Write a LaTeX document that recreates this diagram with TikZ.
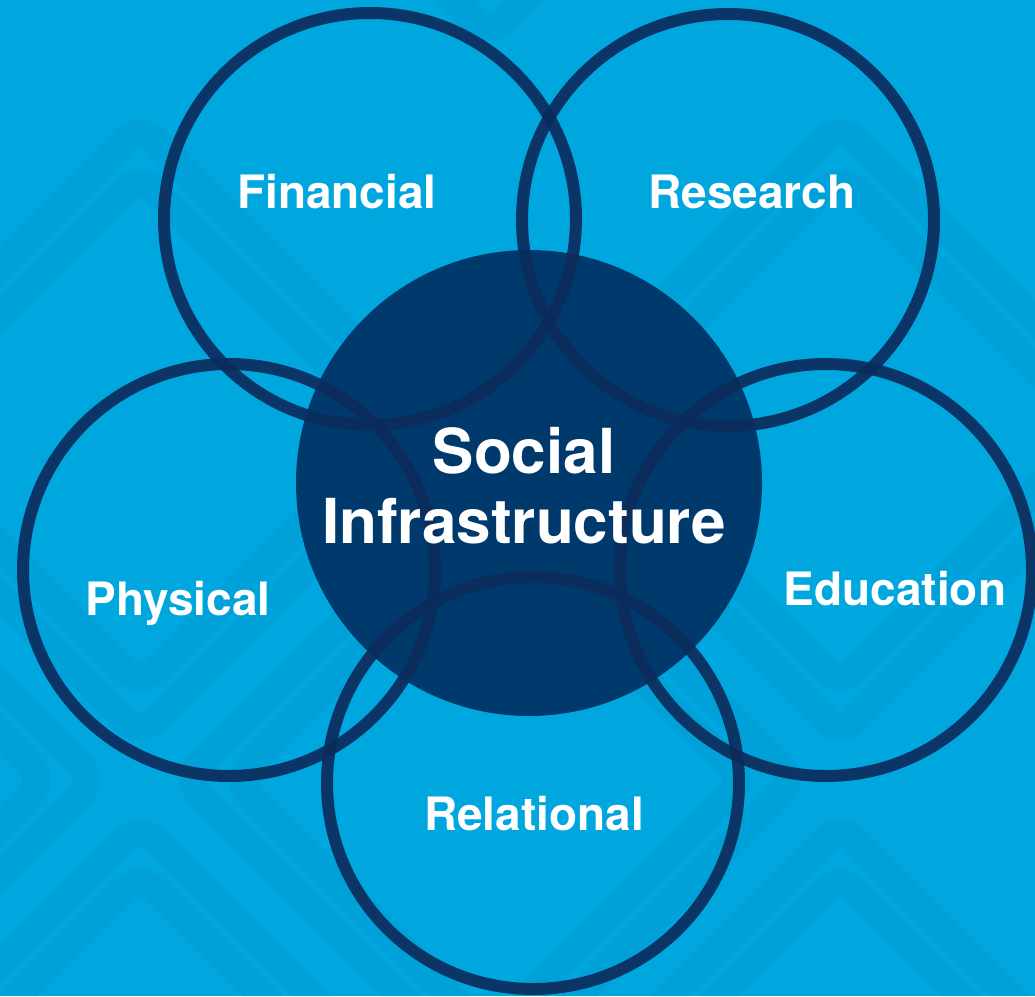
\documentclass[tikz,border=0pt]{standalone}
\usepackage{fontspec}
\setmainfont{TeX Gyre Heros}
\usepackage{tikz}
\usetikzlibrary{positioning, calc}

\definecolor{skyblue}{HTML}{00A6DE}
\definecolor{coreblue}{HTML}{003A6C}
\definecolor{ringblue}{HTML}{0B2C5C}

\begin{document}
\begin{tikzpicture}[x=1pt, y=-1pt,
    ring/.style={circle, draw=ringblue, draw opacity=0.92, line width=12pt, minimum size=412pt, inner sep=0pt},
    core/.style={circle, fill=coreblue, minimum size=466pt, inner sep=0pt},
    tag/.style={anchor=base, text=white, font=\fontsize{46}{55}\selectfont\bfseries},
    coretag/.style={anchor=base, text=white, font=\fontsize{62}{70}\selectfont\bfseries},
    band/.style={draw=ringblue, draw opacity=0.035, line width=28pt, rounded corners=20pt}
  ]
  % background
  \fill[skyblue] (0,0) rectangle (1035,996);
  \useasboundingbox (0,0) rectangle (1035,996);
  \begin{scope}
    \clip (0,0) rectangle (1035,996);
    \foreach \cx/\cy in {140/430, 140/1130, 840/430, 490/-270, 490/780, -210/-270, -210/780, 840/1130, 1190/-270} {
      \foreach \d in {255, 305} {
        \draw[band] (\cx,\cy-\d) -- (\cx+\d,\cy) -- (\cx,\cy+\d) -- (\cx-\d,\cy) -- cycle;
      }
    }
  \end{scope}

  % central disc
  \node[core] (core) at (529,483) {};

  % outer rings
  \node[ring] (financial) at (370,219) {};
  \node[ring] (research) at (728,220) {};
  \node[ring] (physical) at (229,570) {};
  \node[ring] (education) at (826,570) {};
  \node[ring] (relational) at (533,783) {};

  % labels
  \node[tag] (financialtag) at (337,208) {Financial};
  \node[tag] (researchtag) at (752,208) {Research};
  \node[tag] (physicaltag) at (178,615) {Physical};
  \node[tag] (educationtag) at (895,605) {Education};
  \node[tag] (relationaltag) at (534,830) {Relational};
  \node[coretag] (socialtag) at (524,473) {Social};
  \node[coretag] (infratag) at (524,543) {Infrastructure};
\end{tikzpicture}
\end{document}
